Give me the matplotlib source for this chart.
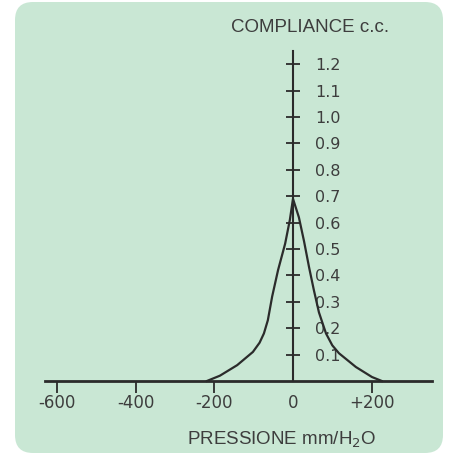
import numpy as np
import matplotlib
matplotlib.use("Agg")
import matplotlib.pyplot as plt
from matplotlib.patches import FancyBboxPatch
from matplotlib.transforms import IdentityTransform

# =========================
# DATA
# =========================
pressure = [-219, -186, -142, -102, -85, -74, -64, -53, -38, -20, -8, 0,
            15, 28, 41, 53, 66, 84, 100, 117, 160, 201, 226]
compliance = [0.0, 0.02, 0.06, 0.11, 0.145, 0.18, 0.23, 0.32, 0.42, 0.52, 0.61, 0.69,
              0.62, 0.53, 0.43, 0.345, 0.26, 0.18, 0.135, 0.105, 0.053, 0.015, 0.0]

x_ticks = [-600, -400, -200, 0, 200]
x_labels = ["-600", "-400", "-200", "0", "+200"]
y_ticks = [0.1, 0.2, 0.3, 0.4, 0.5, 0.6, 0.7, 0.8, 0.9, 1.0, 1.1, 1.2]
y_labels = ["%.1f" % v for v in y_ticks]

ink = "#2b2b2b"
txt = "#3d3d3d"
panel = "#c9e7d4"

# =========================
# FIGURE
# =========================
fig = plt.figure(figsize=(4.5, 4.66), dpi=100)
fig.patch.set_facecolor("white")

bg = FancyBboxPatch((15, 466 - 453), 428, 451,
                    boxstyle="round,pad=0,rounding_size=18",
                    transform=IdentityTransform(), facecolor=panel,
                    edgecolor="none", zorder=-5)
fig.patches.append(bg)

ax = fig.add_axes([0, 0, 1, 1])
ax.set_facecolor("none")
ax.set_xlim(-745.5, 399.5)
ax.set_ylim(-0.322, 1.443)

ax.plot(pressure, compliance, color=ink, lw=1.6, solid_joinstyle="round")

# axes through the origin
for s in ["left", "top"]:
    ax.spines[s].set_visible(False)
ax.spines["bottom"].set_position(("data", 0))
ax.spines["bottom"].set_bounds(-631, 354)
ax.spines["bottom"].set_linewidth(2.0)
ax.spines["bottom"].set_color(ink)
ax.spines["right"].set_position(("data", 0))
ax.spines["right"].set_bounds(0, 1.25)
ax.spines["right"].set_linewidth(1.5)
ax.spines["right"].set_color(ink)

ax.set_xticks(x_ticks)
ax.set_xticklabels(x_labels)
ax.tick_params(axis="x", direction="out", length=8.5, width=1.3, color=ink,
               labelsize=12, labelcolor=txt, pad=1)
ax.xaxis.get_major_ticks()[3].tick1line.set_visible(False)

ax.yaxis.set_ticks_position("right")
ax.set_yticks(y_ticks)
ax.set_yticklabels(y_labels)
ax.tick_params(axis="y", direction="inout", length=10, width=1.3, color=ink,
               labelsize=11.5, labelcolor=txt, pad=11)

# axis titles
fig.text(310 / 450, 1 - 28 / 466, "COMPLIANCE c.c.", ha="center", va="center",
         fontsize=13.5, color=txt, family="Liberation Sans")
fig.text(282 / 450, 1 - 440 / 466, "PRESSIONE mm/H$_2$O", ha="center", va="center",
         fontsize=13.5, color=txt, family="Liberation Sans")

fig.savefig("out.png", dpi=100, facecolor="white")
